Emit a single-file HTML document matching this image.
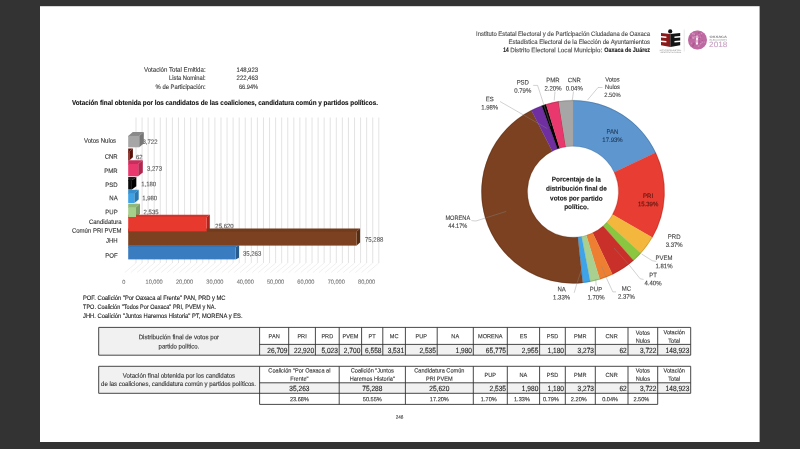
<!DOCTYPE html>
<html lang="es">
<head>
<meta charset="utf-8">
<title>Estadística Electoral - Oaxaca de Juárez</title>
<style>
html,body{margin:0;padding:0;background:#333;}
body{width:800px;height:449px;overflow:hidden;}
svg{display:block;font-family:"Liberation Sans",sans-serif;text-rendering:geometricPrecision;filter:blur(0.45px);}
</style>
</head>
<body>
<svg width="800" height="449" viewBox="0 0 800 449">
<rect x="0" y="0" width="800" height="449" fill="#333"/>
<rect x="40" y="6.2" width="719.6" height="435.8" fill="#fff"/>
<text x="650.00" y="36.08" font-size="6.42" text-anchor="end" fill="#484848" textLength="174.00" lengthAdjust="spacingAndGlyphs" stroke="#484848" stroke-width="0.12" transform="rotate(0.03 650.00 36.08)">Instituto Estatal Electoral y de Participación Ciudadana de Oaxaca</text>
<text x="650.00" y="44.38" font-size="6.42" text-anchor="end" fill="#484848" textLength="141.50" lengthAdjust="spacingAndGlyphs" stroke="#484848" stroke-width="0.12" transform="rotate(0.03 650.00 44.38)">Estadística Electoral de la Elección de Ayuntamientos</text>
<text x="650.00" y="52.28" font-size="6.42" text-anchor="end" fill="#222" textLength="45.80" lengthAdjust="spacingAndGlyphs" font-weight="bold" stroke="#222" stroke-width="0.12" transform="rotate(0.03 650.00 52.28)">Oaxaca de Juárez</text>
<text x="510.20" y="52.28" font-size="6.42" text-anchor="start" fill="#484848" textLength="92.00" lengthAdjust="spacingAndGlyphs" stroke="#484848" stroke-width="0.12" transform="rotate(0.03 510.20 52.28)">Distrito Electoral Local  Municipio:</text>
<text x="503.30" y="52.28" font-size="6.42" text-anchor="start" fill="#222" textLength="5.40" lengthAdjust="spacingAndGlyphs" font-weight="bold" stroke="#222" stroke-width="0.12" transform="rotate(0.03 503.30 52.28)">14</text>
<g id="logo">
<circle cx="670.2" cy="31.4" r="2.1" fill="#111"/>
<path d="M670.30 33.90L661.00 33.00L661.00 36.10L666.39 36.62L666.39 38.12L661.00 37.60L661.00 40.50L666.39 41.02L666.39 42.52L661.00 42.00L661.00 45.30L670.30 47.00z" fill="#8a1a1a"/>
<path d="M670.30 33.90L680.20 33.00L680.20 36.10L674.46 36.62L674.46 38.12L680.20 37.60L680.20 40.50L674.46 41.02L674.46 42.52L680.20 42.00L680.20 45.30L670.30 47.00z" fill="#141414"/>
<text x="670.50" y="51.25" font-size="1.82" text-anchor="middle" fill="#7a7a7a" textLength="21.50" lengthAdjust="spacingAndGlyphs" transform="rotate(0.03 670.50 51.25)">INSTITUTO ESTATAL ELECTORAL</text>
<text x="670.50" y="53.15" font-size="1.82" text-anchor="middle" fill="#7a7a7a" textLength="21.50" lengthAdjust="spacingAndGlyphs" transform="rotate(0.03 670.50 53.15)">Y DE PARTICIPACIÓN CIUDADANA</text>
<line x1="684.2" y1="29.5" x2="684.2" y2="51.5" stroke="#d6d6d6" stroke-width="0.6"/>
<rect x="688.1" y="30.6" width="18.8" height="18.8" rx="8.8" fill="#be69a1"/>
<g fill="#dca4c9" opacity="0.7"><circle cx="696.20" cy="42.60" r="0.83"/><circle cx="702.18" cy="42.29" r="0.68"/><circle cx="702.21" cy="41.80" r="0.52"/><circle cx="695.29" cy="40.98" r="0.55"/><circle cx="691.31" cy="43.18" r="0.56"/><circle cx="698.46" cy="45.68" r="0.97"/><circle cx="693.62" cy="37.96" r="0.99"/><circle cx="704.35" cy="42.06" r="0.64"/><circle cx="699.17" cy="42.13" r="0.65"/><circle cx="698.74" cy="37.18" r="0.79"/><circle cx="694.78" cy="36.76" r="0.77"/><circle cx="699.68" cy="40.91" r="0.60"/><circle cx="695.57" cy="35.86" r="0.66"/><circle cx="693.45" cy="37.58" r="0.65"/><circle cx="699.20" cy="34.05" r="0.62"/><circle cx="692.90" cy="37.68" r="0.94"/><circle cx="697.02" cy="36.30" r="0.99"/><circle cx="700.82" cy="43.05" r="0.88"/><circle cx="700.35" cy="44.03" r="0.52"/><circle cx="694.26" cy="34.26" r="0.79"/><circle cx="700.25" cy="37.26" r="0.85"/><circle cx="692.96" cy="36.94" r="0.73"/><circle cx="701.61" cy="33.52" r="0.74"/><circle cx="696.29" cy="37.97" r="0.85"/><circle cx="692.71" cy="33.65" r="0.91"/><circle cx="696.57" cy="44.21" r="0.83"/></g>
<g fill="#a24a86" opacity="0.6"><circle cx="702.22" cy="40.67" r="0.58"/><circle cx="699.24" cy="41.58" r="0.88"/><circle cx="699.90" cy="42.53" r="0.70"/><circle cx="699.22" cy="38.20" r="0.72"/><circle cx="690.55" cy="37.77" r="0.91"/><circle cx="699.91" cy="37.23" r="0.71"/><circle cx="692.89" cy="45.66" r="0.98"/><circle cx="699.28" cy="42.48" r="0.62"/><circle cx="698.01" cy="44.88" r="0.79"/><circle cx="697.34" cy="42.02" r="0.71"/><circle cx="693.82" cy="43.95" r="0.98"/><circle cx="695.64" cy="35.26" r="0.81"/><circle cx="696.46" cy="37.92" r="0.95"/><circle cx="698.86" cy="32.88" r="0.90"/><circle cx="694.07" cy="42.75" r="0.55"/><circle cx="695.92" cy="38.23" r="0.53"/><circle cx="698.26" cy="42.87" r="0.67"/><circle cx="699.39" cy="40.65" r="0.58"/><circle cx="700.86" cy="42.49" r="0.51"/><circle cx="701.50" cy="35.96" r="0.57"/></g>
<rect x="695.9" y="35.6" width="2.2" height="9.4" rx="1.1" fill="#e3b4d3"/>
<circle cx="697" cy="38.9" r="0.9" fill="#fff"/><circle cx="697" cy="43.3" r="0.9" fill="#fff"/>
<text x="718.20" y="37.73" font-size="2.89" text-anchor="middle" fill="#6a6a6a" textLength="17.60" lengthAdjust="spacingAndGlyphs" font-weight="bold" transform="rotate(0.03 718.20 37.73)">OAXACA</text>
<text x="718.20" y="40.67" font-size="2.46" text-anchor="middle" fill="#9a9a9a" textLength="17.60" lengthAdjust="spacingAndGlyphs" transform="rotate(0.03 718.20 40.67)">ELECCIONES</text>
<text x="718.20" y="47.07" font-size="7.81" text-anchor="middle" fill="#c9a2c4" textLength="18.20" lengthAdjust="spacingAndGlyphs" stroke="#c9a2c4" stroke-width="0.12" transform="rotate(0.03 718.20 47.07)">2018</text>
</g>
<text x="205.60" y="71.88" font-size="6.42" text-anchor="end" fill="#3a3a3a" textLength="61.60" lengthAdjust="spacingAndGlyphs" stroke="#3a3a3a" stroke-width="0.12" transform="rotate(0.03 205.60 71.88)">Votación Total Emitida:</text>
<text x="258.00" y="71.88" font-size="6.42" text-anchor="end" fill="#3a3a3a" textLength="21.40" lengthAdjust="spacingAndGlyphs" stroke="#3a3a3a" stroke-width="0.12" transform="rotate(0.03 258.00 71.88)">148,923</text>
<text x="205.60" y="80.38" font-size="6.42" text-anchor="end" fill="#3a3a3a" textLength="36.60" lengthAdjust="spacingAndGlyphs" stroke="#3a3a3a" stroke-width="0.12" transform="rotate(0.03 205.60 80.38)">Lista Nominal:</text>
<text x="258.00" y="80.38" font-size="6.42" text-anchor="end" fill="#3a3a3a" textLength="21.40" lengthAdjust="spacingAndGlyphs" stroke="#3a3a3a" stroke-width="0.12" transform="rotate(0.03 258.00 80.38)">222,463</text>
<text x="205.60" y="88.78" font-size="6.42" text-anchor="end" fill="#3a3a3a" textLength="50.00" lengthAdjust="spacingAndGlyphs" stroke="#3a3a3a" stroke-width="0.12" transform="rotate(0.03 205.60 88.78)">% de Participación:</text>
<text x="258.00" y="88.78" font-size="6.42" text-anchor="end" fill="#3a3a3a" textLength="19.00" lengthAdjust="spacingAndGlyphs" stroke="#3a3a3a" stroke-width="0.12" transform="rotate(0.03 258.00 88.78)">66.94%</text>
<text x="72.00" y="104.71" font-size="7.06" text-anchor="start" fill="#111" textLength="306.00" lengthAdjust="spacingAndGlyphs" font-weight="bold" stroke="#111" stroke-width="0.12" transform="rotate(0.03 72.00 104.71)">Votación final obtenida por los candidatos de las coaliciones, candidatura común y partidos políticos.</text>
<g id="barchart">
<path d="M136.00 117.5V263 M142.07 117.5V263 M148.14 117.5V263 M154.21 117.5V263 M160.28 117.5V263 M166.35 117.5V263 M172.42 117.5V263 M178.49 117.5V263 M184.56 117.5V263 M190.63 117.5V263 M196.70 117.5V263 M202.77 117.5V263 M208.84 117.5V263 M214.91 117.5V263 M220.98 117.5V263 M227.05 117.5V263 M233.12 117.5V263 M239.19 117.5V263 M245.26 117.5V263 M251.33 117.5V263 M257.40 117.5V263 M263.47 117.5V263 M269.54 117.5V263 M275.61 117.5V263 M281.68 117.5V263 M287.75 117.5V263 M293.82 117.5V263 M299.89 117.5V263 M305.96 117.5V263 M312.03 117.5V263 M318.10 117.5V263 M324.17 117.5V263 M330.24 117.5V263 M336.31 117.5V263 M342.38 117.5V263 M348.45 117.5V263 M354.52 117.5V263 M360.59 117.5V263 M366.66 117.5V263 M372.73 117.5V263 M378.80 117.5V263" stroke="#dedede" stroke-width="0.85" fill="none"/>
<path d="M136.00 263L124.70 272.6 M142.07 263L130.77 272.6 M148.14 263L136.84 272.6 M154.21 263L142.91 272.6 M160.28 263L148.98 272.6 M166.35 263L155.05 272.6 M172.42 263L161.12 272.6 M178.49 263L167.19 272.6 M184.56 263L173.26 272.6 M190.63 263L179.33 272.6 M196.70 263L185.40 272.6 M202.77 263L191.47 272.6 M208.84 263L197.54 272.6 M214.91 263L203.61 272.6 M220.98 263L209.68 272.6 M227.05 263L215.75 272.6 M233.12 263L221.82 272.6 M239.19 263L227.89 272.6 M245.26 263L233.96 272.6 M251.33 263L240.03 272.6 M257.40 263L246.10 272.6 M263.47 263L252.17 272.6 M269.54 263L258.24 272.6 M275.61 263L264.31 272.6 M281.68 263L270.38 272.6 M287.75 263L276.45 272.6 M293.82 263L282.52 272.6 M299.89 263L288.59 272.6 M305.96 263L294.66 272.6 M312.03 263L300.73 272.6 M318.10 263L306.80 272.6 M324.17 263L312.87 272.6 M330.24 263L318.94 272.6 M336.31 263L325.01 272.6 M342.38 263L331.08 272.6 M348.45 263L337.15 272.6 M354.52 263L343.22 272.6 M360.59 263L349.29 272.6 M366.66 263L355.36 272.6 M372.73 263L361.43 272.6 M378.80 263L367.50 272.6" stroke="#e6e6e6" stroke-width="0.6" fill="none"/>
<text x="142.50" y="143.88" font-size="6.42" text-anchor="start" fill="#595959" textLength="15.02" lengthAdjust="spacingAndGlyphs" stroke="#595959" stroke-width="0.12" transform="rotate(0.03 142.50 143.88)">3,722</text>
<text x="136.00" y="159.28" font-size="6.42" text-anchor="start" fill="#595959" textLength="6.67" lengthAdjust="spacingAndGlyphs" stroke="#595959" stroke-width="0.12" transform="rotate(0.03 136.00 159.28)">62</text>
<text x="147.00" y="170.68" font-size="6.42" text-anchor="start" fill="#595959" textLength="15.02" lengthAdjust="spacingAndGlyphs" stroke="#595959" stroke-width="0.12" transform="rotate(0.03 147.00 170.68)">3,273</text>
<text x="141.20" y="186.28" font-size="6.42" text-anchor="start" fill="#595959" textLength="15.02" lengthAdjust="spacingAndGlyphs" stroke="#595959" stroke-width="0.12" transform="rotate(0.03 141.20 186.28)">1,180</text>
<text x="142.20" y="200.28" font-size="6.42" text-anchor="start" fill="#595959" textLength="15.02" lengthAdjust="spacingAndGlyphs" stroke="#595959" stroke-width="0.12" transform="rotate(0.03 142.20 200.28)">1,980</text>
<text x="143.60" y="214.28" font-size="6.42" text-anchor="start" fill="#595959" textLength="15.02" lengthAdjust="spacingAndGlyphs" stroke="#595959" stroke-width="0.12" transform="rotate(0.03 143.60 214.28)">2,535</text>
<text x="215.30" y="228.28" font-size="6.42" text-anchor="start" fill="#595959" textLength="18.35" lengthAdjust="spacingAndGlyphs" stroke="#595959" stroke-width="0.12" transform="rotate(0.03 215.30 228.28)">25,620</text>
<text x="365.00" y="241.78" font-size="6.42" text-anchor="start" fill="#595959" textLength="18.35" lengthAdjust="spacingAndGlyphs" stroke="#595959" stroke-width="0.12" transform="rotate(0.03 365.00 241.78)">75,288</text>
<text x="242.90" y="255.78" font-size="6.42" text-anchor="start" fill="#595959" textLength="18.35" lengthAdjust="spacingAndGlyphs" stroke="#595959" stroke-width="0.12" transform="rotate(0.03 242.90 255.78)">35,263</text>
<path d="M128.2 135.90L132.80 132.10L143.80 132.10L139.20 135.90L139.20 136.70L128.2 136.70z" fill="#8a8a8a"/>
<path d="M139.20 135.90L143.80 132.10L143.80 143.50L139.20 147.30z" fill="#767676"/>
<path d="M128.2 151.60L128.20 148.40L132.90 148.40L129.30 151.60L129.30 152.40L128.2 152.40z" fill="#66140c"/>
<path d="M129.30 151.60L132.90 148.40L132.90 157.20L129.30 160.40z" fill="#5a0f08"/>
<path d="M128.2 164.00L128.20 160.20L142.80 160.20L138.20 164.00L138.20 164.80L128.2 164.80z" fill="#c92d5c"/>
<path d="M138.20 164.00L142.80 160.20L142.80 172.50L138.20 176.30z" fill="#b3264f"/>
<path d="M128.2 180.20L128.20 176.90L136.30 176.90L131.90 180.20L131.90 181.00L128.2 181.00z" fill="#1c1c1c"/>
<path d="M131.90 180.20L136.30 176.90L136.30 186.20L131.90 189.50z" fill="#000"/>
<path d="M128.2 193.20L128.20 189.70L138.70 189.70L134.30 193.20L134.30 194.00L128.2 194.00z" fill="#358dc9"/>
<path d="M134.30 193.20L138.70 189.70L138.70 199.60L134.30 203.10z" fill="#2b79b0"/>
<path d="M128.2 207.20L128.20 203.80L140.00 203.80L136.00 207.20L136.00 208.00L128.2 208.00z" fill="#90b878"/>
<path d="M136.00 207.20L140.00 203.80L140.00 213.90L136.00 217.30z" fill="#7b9f66"/>
<path d="M128.2 217.00L128.20 214.80L209.80 214.80L206.70 217.00L206.70 217.80L128.2 217.80z" fill="#d6332a"/>
<path d="M206.70 217.00L209.80 214.80L209.80 229.50L206.70 231.70z" fill="#ad261e"/>
<path d="M128.2 231.60L128.20 228.50L360.10 228.50L356.60 231.60L356.60 232.40L128.2 232.40z" fill="#723b1c"/>
<path d="M356.60 231.60L360.10 228.50L360.10 242.50L356.60 245.60z" fill="#552d13"/>
<path d="M128.2 247.00L128.20 245.30L239.00 245.30L235.60 247.00L235.60 247.80L128.2 247.80z" fill="#3574b4"/>
<path d="M235.60 247.00L239.00 245.30L239.00 257.70L235.60 259.40z" fill="#295a8e"/>
<rect x="128.2" y="135.90" width="11.00" height="11.40" fill="#a6a6a6"/>
<rect x="128.2" y="151.60" width="1.10" height="8.80" fill="#7a1a10"/>
<rect x="128.2" y="164.00" width="10.00" height="12.30" fill="#e8386d"/>
<rect x="128.2" y="180.20" width="3.70" height="9.30" fill="#0a0a0a"/>
<rect x="128.2" y="193.20" width="6.10" height="9.90" fill="#3ea2e6"/>
<rect x="128.2" y="207.20" width="7.80" height="10.10" fill="#a6cf8c"/>
<rect x="128.2" y="217.00" width="78.50" height="14.70" fill="#e8392f"/>
<rect x="128.2" y="231.60" width="228.40" height="14.00" fill="#7c4120"/>
<rect x="128.2" y="247.00" width="107.40" height="12.40" fill="#3a7cc0"/>
<text x="116.10" y="142.78" font-size="6.42" text-anchor="end" fill="#333" textLength="32.02" lengthAdjust="spacingAndGlyphs" stroke="#333" stroke-width="0.12" transform="rotate(0.03 116.10 142.78)">Votos Nulos</text>
<text x="117.70" y="158.88" font-size="6.42" text-anchor="end" fill="#333" textLength="13.00" lengthAdjust="spacingAndGlyphs" stroke="#333" stroke-width="0.12" transform="rotate(0.03 117.70 158.88)">CNR</text>
<text x="117.70" y="173.08" font-size="6.42" text-anchor="end" fill="#333" textLength="13.33" lengthAdjust="spacingAndGlyphs" stroke="#333" stroke-width="0.12" transform="rotate(0.03 117.70 173.08)">PMR</text>
<text x="117.70" y="186.98" font-size="6.42" text-anchor="end" fill="#333" textLength="12.34" lengthAdjust="spacingAndGlyphs" stroke="#333" stroke-width="0.12" transform="rotate(0.03 117.70 186.98)">PSD</text>
<text x="117.70" y="200.18" font-size="6.42" text-anchor="end" fill="#333" textLength="8.34" lengthAdjust="spacingAndGlyphs" stroke="#333" stroke-width="0.12" transform="rotate(0.03 117.70 200.18)">NA</text>
<text x="117.70" y="214.28" font-size="6.42" text-anchor="end" fill="#333" textLength="12.34" lengthAdjust="spacingAndGlyphs" stroke="#333" stroke-width="0.12" transform="rotate(0.03 117.70 214.28)">PUP</text>
<text x="121.60" y="224.08" font-size="6.42" text-anchor="end" fill="#333" textLength="32.69" lengthAdjust="spacingAndGlyphs" stroke="#333" stroke-width="0.12" transform="rotate(0.03 121.60 224.08)">Candidatura</text>
<text x="121.60" y="232.78" font-size="6.42" text-anchor="end" fill="#333" textLength="49.68" lengthAdjust="spacingAndGlyphs" stroke="#333" stroke-width="0.12" transform="rotate(0.03 121.60 232.78)">Común PRI PVEM</text>
<text x="117.70" y="242.78" font-size="6.42" text-anchor="end" fill="#333" textLength="11.67" lengthAdjust="spacingAndGlyphs" stroke="#333" stroke-width="0.12" transform="rotate(0.03 117.70 242.78)">JHH</text>
<text x="117.70" y="257.88" font-size="6.42" text-anchor="end" fill="#333" textLength="12.33" lengthAdjust="spacingAndGlyphs" stroke="#333" stroke-width="0.12" transform="rotate(0.03 117.70 257.88)">POF</text>
<text x="123.80" y="283.73" font-size="5.99" text-anchor="middle" fill="#7a7a7a" textLength="3.11" lengthAdjust="spacingAndGlyphs" stroke="#7a7a7a" stroke-width="0.12" transform="rotate(0.03 123.80 283.73)">0</text>
<text x="154.15" y="283.73" font-size="5.99" text-anchor="middle" fill="#7a7a7a" textLength="17.13" lengthAdjust="spacingAndGlyphs" stroke="#7a7a7a" stroke-width="0.12" transform="rotate(0.03 154.15 283.73)">10,000</text>
<text x="184.50" y="283.73" font-size="5.99" text-anchor="middle" fill="#7a7a7a" textLength="17.13" lengthAdjust="spacingAndGlyphs" stroke="#7a7a7a" stroke-width="0.12" transform="rotate(0.03 184.50 283.73)">20,000</text>
<text x="214.85" y="283.73" font-size="5.99" text-anchor="middle" fill="#7a7a7a" textLength="17.13" lengthAdjust="spacingAndGlyphs" stroke="#7a7a7a" stroke-width="0.12" transform="rotate(0.03 214.85 283.73)">30,000</text>
<text x="245.20" y="283.73" font-size="5.99" text-anchor="middle" fill="#7a7a7a" textLength="17.13" lengthAdjust="spacingAndGlyphs" stroke="#7a7a7a" stroke-width="0.12" transform="rotate(0.03 245.20 283.73)">40,000</text>
<text x="275.55" y="283.73" font-size="5.99" text-anchor="middle" fill="#7a7a7a" textLength="17.13" lengthAdjust="spacingAndGlyphs" stroke="#7a7a7a" stroke-width="0.12" transform="rotate(0.03 275.55 283.73)">50,000</text>
<text x="305.90" y="283.73" font-size="5.99" text-anchor="middle" fill="#7a7a7a" textLength="17.13" lengthAdjust="spacingAndGlyphs" stroke="#7a7a7a" stroke-width="0.12" transform="rotate(0.03 305.90 283.73)">60,000</text>
<text x="336.25" y="283.73" font-size="5.99" text-anchor="middle" fill="#7a7a7a" textLength="17.13" lengthAdjust="spacingAndGlyphs" stroke="#7a7a7a" stroke-width="0.12" transform="rotate(0.03 336.25 283.73)">70,000</text>
<text x="366.60" y="283.73" font-size="5.99" text-anchor="middle" fill="#7a7a7a" textLength="17.13" lengthAdjust="spacingAndGlyphs" stroke="#7a7a7a" stroke-width="0.12" transform="rotate(0.03 366.60 283.73)">80,000</text>
</g>
<text x="83.00" y="299.78" font-size="6.42" text-anchor="start" fill="#1c1c1c" textLength="142.50" lengthAdjust="spacingAndGlyphs" stroke="#1c1c1c" stroke-width="0.12" transform="rotate(0.03 83.00 299.78)">POF. Coalición &quot;Por Oaxaca al Frente&quot; PAN, PRD y MC</text>
<text x="83.00" y="308.58" font-size="6.42" text-anchor="start" fill="#1c1c1c" textLength="133.00" lengthAdjust="spacingAndGlyphs" stroke="#1c1c1c" stroke-width="0.12" transform="rotate(0.03 83.00 308.58)">TPO. Coalición &quot;Todos Por Oaxaca&quot; PRI, PVEM y NA.</text>
<text x="83.00" y="317.68" font-size="6.42" text-anchor="start" fill="#1c1c1c" textLength="159.50" lengthAdjust="spacingAndGlyphs" stroke="#1c1c1c" stroke-width="0.12" transform="rotate(0.03 83.00 317.68)">JHH. Coalición &quot;Juntos Haremos Historia&quot; PT, MORENA y ES.</text>
<g id="donut">
<path d="M573.00 100.20A91.6 91.6 0 0 1 655.72 152.45L614.09 172.26A45.5 45.5 0 0 0 573.00 146.30z" fill="#5e97cf" stroke="#5e97cf" stroke-width="0.25"/>
<path d="M655.72 152.45A91.6 91.6 0 0 1 652.35 237.57L612.41 214.53A45.5 45.5 0 0 0 614.09 172.26z" fill="#e83d32" stroke="#e83d32" stroke-width="0.25"/>
<path d="M652.35 237.57A91.6 91.6 0 0 1 640.95 253.22L606.75 222.31A45.5 45.5 0 0 0 612.41 214.53z" fill="#f4b73e" stroke="#f4b73e" stroke-width="0.25"/>
<path d="M640.95 253.22A91.6 91.6 0 0 1 633.54 260.54L603.07 225.94A45.5 45.5 0 0 0 606.75 222.31z" fill="#8ac640" stroke="#8ac640" stroke-width="0.25"/>
<path d="M633.54 260.54A91.6 91.6 0 0 1 612.48 274.46L592.61 232.86A45.5 45.5 0 0 0 603.07 225.94z" fill="#c9302a" stroke="#c9302a" stroke-width="0.25"/>
<path d="M612.48 274.46A91.6 91.6 0 0 1 599.77 279.40L586.30 235.31A45.5 45.5 0 0 0 592.61 232.86z" fill="#ee7f32" stroke="#ee7f32" stroke-width="0.25"/>
<path d="M599.77 279.40A91.6 91.6 0 0 1 590.28 281.76L581.58 236.48A45.5 45.5 0 0 0 586.30 235.31z" fill="#a9d08e" stroke="#a9d08e" stroke-width="0.25"/>
<path d="M590.28 281.76A91.6 91.6 0 0 1 582.71 282.88L577.82 237.04A45.5 45.5 0 0 0 581.58 236.48z" fill="#3fa3e8" stroke="#3fa3e8" stroke-width="0.25"/>
<path d="M582.71 282.88A91.6 91.6 0 0 1 531.36 110.21L552.31 151.27A45.5 45.5 0 0 0 577.82 237.04z" fill="#7c4120" stroke="#7c4120" stroke-width="0.25"/>
<path d="M531.36 110.21A91.6 91.6 0 0 1 541.80 105.68L557.50 149.02A45.5 45.5 0 0 0 552.31 151.27z" fill="#6f2fa0" stroke="#6f2fa0" stroke-width="0.25"/>
<path d="M541.80 105.68A91.6 91.6 0 0 1 546.12 104.23L559.65 148.30A45.5 45.5 0 0 0 557.50 149.02z" fill="#050505" stroke="#050505" stroke-width="0.25"/>
<path d="M546.12 104.23A91.6 91.6 0 0 1 558.44 101.36L565.77 146.88A45.5 45.5 0 0 0 559.65 148.30z" fill="#e8386d" stroke="#e8386d" stroke-width="0.25"/>
<path d="M558.44 101.36A91.6 91.6 0 0 1 558.67 101.33L565.88 146.86A45.5 45.5 0 0 0 565.77 146.88z" fill="#7a1b14" stroke="#7a1b14" stroke-width="0.25"/>
<path d="M558.67 101.33A91.6 91.6 0 0 1 573.00 100.20L573.00 146.30A45.5 45.5 0 0 0 565.88 146.86z" fill="#a6a6a6" stroke="#a6a6a6" stroke-width="0.25"/>
<path d="M533.2 85.4L537.6 85.4L550.7 126.0" stroke="#8a8a8a" stroke-opacity="0.55" stroke-width="0.7" fill="none"/>
<path d="M555.0 91.5L554.2 100.5" stroke="#8a8a8a" stroke-opacity="0.55" stroke-width="0.7" fill="none"/>
<path d="M573.5 91.5L572.2 100.5" stroke="#8a8a8a" stroke-opacity="0.55" stroke-width="0.7" fill="none"/>
<path d="M602.5 87.5L598.0 87.5L587.5 100.0" stroke="#8a8a8a" stroke-opacity="0.55" stroke-width="0.7" fill="none"/>
<path d="M500.0 101.5L547.3 128.6" stroke="#8a8a8a" stroke-opacity="0.55" stroke-width="0.7" fill="none"/>
<path d="M471.4 220.6L476.0 221.0L506.2 211.4" stroke="#8a8a8a" stroke-opacity="0.55" stroke-width="0.7" fill="none"/>
<path d="M574.2 292.8L576.7 284.1L581.4 270.0" stroke="#8a8a8a" stroke-opacity="0.55" stroke-width="0.7" fill="none"/>
<path d="M596.1 285.5L595.8 279.5" stroke="#8a8a8a" stroke-opacity="0.55" stroke-width="0.7" fill="none"/>
<path d="M616.1 291.9L612.8 291.9L606.8 278.8L601.5 266.0" stroke="#8a8a8a" stroke-opacity="0.55" stroke-width="0.7" fill="none"/>
<path d="M643.6 279.4L640.2 278.8L629.5 265.4L614.0 248.0" stroke="#8a8a8a" stroke-opacity="0.55" stroke-width="0.7" fill="none"/>
<path d="M656.3 261.4L652.2 260.7L641.6 254.0" stroke="#8a8a8a" stroke-opacity="0.55" stroke-width="0.7" fill="none"/>
<circle cx="573.0" cy="191.8" r="91.19999999999999" fill="none" stroke="#000" stroke-opacity="0.16" stroke-width="0.9"/>
<circle cx="573.0" cy="191.8" r="45.9" fill="none" stroke="#000" stroke-opacity="0.12" stroke-width="0.8"/>
<text x="522.80" y="84.48" font-size="6.42" text-anchor="middle" fill="#444" textLength="12.34" lengthAdjust="spacingAndGlyphs" stroke="#444" stroke-width="0.12" transform="rotate(0.03 522.80 84.48)">PSD</text>
<text x="522.80" y="92.68" font-size="6.42" text-anchor="middle" fill="#444" textLength="17.01" lengthAdjust="spacingAndGlyphs" stroke="#444" stroke-width="0.12" transform="rotate(0.03 522.80 92.68)">0.79%</text>
<text x="553.00" y="82.28" font-size="6.42" text-anchor="middle" fill="#444" textLength="13.33" lengthAdjust="spacingAndGlyphs" stroke="#444" stroke-width="0.12" transform="rotate(0.03 553.00 82.28)">PMR</text>
<text x="553.00" y="90.48" font-size="6.42" text-anchor="middle" fill="#444" textLength="17.01" lengthAdjust="spacingAndGlyphs" stroke="#444" stroke-width="0.12" transform="rotate(0.03 553.00 90.48)">2.20%</text>
<text x="574.30" y="82.28" font-size="6.42" text-anchor="middle" fill="#444" textLength="13.00" lengthAdjust="spacingAndGlyphs" stroke="#444" stroke-width="0.12" transform="rotate(0.03 574.30 82.28)">CNR</text>
<text x="574.30" y="90.48" font-size="6.42" text-anchor="middle" fill="#444" textLength="17.01" lengthAdjust="spacingAndGlyphs" stroke="#444" stroke-width="0.12" transform="rotate(0.03 574.30 90.48)">0.04%</text>
<text x="612.50" y="81.40" font-size="6.21" text-anchor="middle" fill="#444" textLength="14.51" lengthAdjust="spacingAndGlyphs" stroke="#444" stroke-width="0.12" transform="rotate(0.03 612.50 81.40)">Votos</text>
<text x="612.50" y="89.10" font-size="6.21" text-anchor="middle" fill="#444" textLength="14.83" lengthAdjust="spacingAndGlyphs" stroke="#444" stroke-width="0.12" transform="rotate(0.03 612.50 89.10)">Nulos</text>
<text x="612.50" y="97.10" font-size="6.21" text-anchor="middle" fill="#444" textLength="16.45" lengthAdjust="spacingAndGlyphs" stroke="#444" stroke-width="0.12" transform="rotate(0.03 612.50 97.10)">2.50%</text>
<text x="489.70" y="101.28" font-size="6.42" text-anchor="middle" fill="#444" textLength="8.00" lengthAdjust="spacingAndGlyphs" stroke="#444" stroke-width="0.12" transform="rotate(0.03 489.70 101.28)">ES</text>
<text x="489.70" y="109.48" font-size="6.42" text-anchor="middle" fill="#444" textLength="17.01" lengthAdjust="spacingAndGlyphs" stroke="#444" stroke-width="0.12" transform="rotate(0.03 489.70 109.48)">1.98%</text>
<text x="612.50" y="133.88" font-size="6.42" text-anchor="middle" fill="#1f3a5a" textLength="11.89" lengthAdjust="spacingAndGlyphs" stroke="#1f3a5a" stroke-width="0.12" transform="rotate(0.03 612.50 133.88)">PAN</text>
<text x="612.50" y="142.08" font-size="6.42" text-anchor="middle" fill="#1f3a5a" textLength="20.35" lengthAdjust="spacingAndGlyphs" stroke="#1f3a5a" stroke-width="0.12" transform="rotate(0.03 612.50 142.08)">17.93%</text>
<text x="648.10" y="198.08" font-size="6.42" text-anchor="middle" fill="#5a1510" textLength="10.00" lengthAdjust="spacingAndGlyphs" stroke="#5a1510" stroke-width="0.12" transform="rotate(0.03 648.10 198.08)">PRI</text>
<text x="648.10" y="206.28" font-size="6.42" text-anchor="middle" fill="#5a1510" textLength="20.35" lengthAdjust="spacingAndGlyphs" stroke="#5a1510" stroke-width="0.12" transform="rotate(0.03 648.10 206.28)">15.39%</text>
<text x="674.20" y="238.88" font-size="6.42" text-anchor="middle" fill="#444" textLength="12.67" lengthAdjust="spacingAndGlyphs" stroke="#444" stroke-width="0.12" transform="rotate(0.03 674.20 238.88)">PRD</text>
<text x="674.20" y="247.08" font-size="6.42" text-anchor="middle" fill="#444" textLength="17.01" lengthAdjust="spacingAndGlyphs" stroke="#444" stroke-width="0.12" transform="rotate(0.03 674.20 247.08)">3.37%</text>
<text x="664.00" y="259.98" font-size="6.42" text-anchor="middle" fill="#444" textLength="17.00" lengthAdjust="spacingAndGlyphs" stroke="#444" stroke-width="0.12" transform="rotate(0.03 664.00 259.98)">PVEM</text>
<text x="664.00" y="268.18" font-size="6.42" text-anchor="middle" fill="#444" textLength="17.01" lengthAdjust="spacingAndGlyphs" stroke="#444" stroke-width="0.12" transform="rotate(0.03 664.00 268.18)">1.81%</text>
<text x="653.00" y="277.18" font-size="6.42" text-anchor="middle" fill="#444" textLength="7.67" lengthAdjust="spacingAndGlyphs" stroke="#444" stroke-width="0.12" transform="rotate(0.03 653.00 277.18)">PT</text>
<text x="653.00" y="285.38" font-size="6.42" text-anchor="middle" fill="#444" textLength="17.01" lengthAdjust="spacingAndGlyphs" stroke="#444" stroke-width="0.12" transform="rotate(0.03 653.00 285.38)">4.40%</text>
<text x="626.40" y="290.68" font-size="6.42" text-anchor="middle" fill="#444" textLength="9.33" lengthAdjust="spacingAndGlyphs" stroke="#444" stroke-width="0.12" transform="rotate(0.03 626.40 290.68)">MC</text>
<text x="626.40" y="298.88" font-size="6.42" text-anchor="middle" fill="#444" textLength="17.01" lengthAdjust="spacingAndGlyphs" stroke="#444" stroke-width="0.12" transform="rotate(0.03 626.40 298.88)">2.37%</text>
<text x="596.00" y="291.38" font-size="6.42" text-anchor="middle" fill="#444" textLength="12.34" lengthAdjust="spacingAndGlyphs" stroke="#444" stroke-width="0.12" transform="rotate(0.03 596.00 291.38)">PUP</text>
<text x="596.00" y="299.58" font-size="6.42" text-anchor="middle" fill="#444" textLength="17.01" lengthAdjust="spacingAndGlyphs" stroke="#444" stroke-width="0.12" transform="rotate(0.03 596.00 299.58)">1.70%</text>
<text x="561.60" y="291.38" font-size="6.42" text-anchor="middle" fill="#444" textLength="8.34" lengthAdjust="spacingAndGlyphs" stroke="#444" stroke-width="0.12" transform="rotate(0.03 561.60 291.38)">NA</text>
<text x="561.60" y="299.58" font-size="6.42" text-anchor="middle" fill="#444" textLength="17.01" lengthAdjust="spacingAndGlyphs" stroke="#444" stroke-width="0.12" transform="rotate(0.03 561.60 299.58)">1.33%</text>
<text x="457.80" y="220.38" font-size="6.42" text-anchor="middle" fill="#444" textLength="24.80" lengthAdjust="spacingAndGlyphs" stroke="#444" stroke-width="0.12" transform="rotate(0.03 457.80 220.38)">MORENA</text>
<text x="457.80" y="227.78" font-size="6.42" text-anchor="middle" fill="#444" textLength="19.10" lengthAdjust="spacingAndGlyphs" stroke="#444" stroke-width="0.12" transform="rotate(0.03 457.80 227.78)">44.17%</text>
<text x="576.40" y="181.63" font-size="6.85" text-anchor="middle" fill="#1a1a1a" textLength="49.09" lengthAdjust="spacingAndGlyphs" font-weight="bold" stroke="#1a1a1a" stroke-width="0.12" transform="rotate(0.03 576.40 181.63)">Porcentaje de la</text>
<text x="576.40" y="190.83" font-size="6.85" text-anchor="middle" fill="#1a1a1a" textLength="60.80" lengthAdjust="spacingAndGlyphs" font-weight="bold" stroke="#1a1a1a" stroke-width="0.12" transform="rotate(0.03 576.40 190.83)">distribución final de</text>
<text x="576.40" y="200.63" font-size="6.85" text-anchor="middle" fill="#1a1a1a" textLength="52.62" lengthAdjust="spacingAndGlyphs" font-weight="bold" stroke="#1a1a1a" stroke-width="0.12" transform="rotate(0.03 576.40 200.63)">votos por partido</text>
<text x="576.40" y="209.13" font-size="6.85" text-anchor="middle" fill="#1a1a1a" textLength="24.53" lengthAdjust="spacingAndGlyphs" font-weight="bold" stroke="#1a1a1a" stroke-width="0.12" transform="rotate(0.03 576.40 209.13)">político.</text>
</g>
<g id="tables">
<rect x="98.7" y="327.4" width="160.90000000000003" height="27.80000000000001" fill="#f1f1f1"/>
<rect x="259.6" y="344.4" width="431.1" height="10.800000000000011" fill="#f1f1f1"/>
<path d="M98.70 327.40H690.70 M259.60 344.40H690.70 M98.70 355.20H690.70 M98.70 327.40V355.20 M259.60 327.40V355.20 M288.70 327.40V355.20 M315.40 327.40V355.20 M339.20 327.40V355.20 M361.60 327.40V355.20 M382.80 327.40V355.20 M405.40 327.40V355.20 M437.20 327.40V355.20 M473.30 327.40V355.20 M507.30 327.40V355.20 M539.60 327.40V355.20 M565.30 327.40V355.20 M595.30 327.40V355.20 M628.00 327.40V355.20 M657.70 327.40V355.20 M690.70 327.40V355.20" stroke="#333" stroke-width="0.9" fill="none"/>
<text x="178.90" y="339.28" font-size="6.42" text-anchor="middle" fill="#333" textLength="80.50" lengthAdjust="spacingAndGlyphs" stroke="#333" stroke-width="0.12" transform="rotate(0.03 178.90 339.28)">Distribución final de votos por</text>
<text x="178.90" y="348.48" font-size="6.42" text-anchor="middle" fill="#333" textLength="40.69" lengthAdjust="spacingAndGlyphs" stroke="#333" stroke-width="0.12" transform="rotate(0.03 178.90 348.48)">partido político.</text>
<text x="274.15" y="338.33" font-size="5.99" text-anchor="middle" fill="#333" textLength="11.10" lengthAdjust="spacingAndGlyphs" stroke="#333" stroke-width="0.12" transform="rotate(0.03 274.15 338.33)">PAN</text>
<text x="287.40" y="353.06" font-size="7.49" text-anchor="end" fill="#222" textLength="20.13" lengthAdjust="spacingAndGlyphs" stroke="#222" stroke-width="0.12" transform="rotate(0.03 287.40 353.06)">26,709</text>
<text x="302.05" y="338.33" font-size="5.99" text-anchor="middle" fill="#333" textLength="9.34" lengthAdjust="spacingAndGlyphs" stroke="#333" stroke-width="0.12" transform="rotate(0.03 302.05 338.33)">PRI</text>
<text x="314.10" y="353.06" font-size="7.49" text-anchor="end" fill="#222" textLength="20.13" lengthAdjust="spacingAndGlyphs" stroke="#222" stroke-width="0.12" transform="rotate(0.03 314.10 353.06)">22,920</text>
<text x="327.30" y="338.33" font-size="5.99" text-anchor="middle" fill="#333" textLength="11.82" lengthAdjust="spacingAndGlyphs" stroke="#333" stroke-width="0.12" transform="rotate(0.03 327.30 338.33)">PRD</text>
<text x="337.90" y="353.06" font-size="7.49" text-anchor="end" fill="#222" textLength="16.47" lengthAdjust="spacingAndGlyphs" stroke="#222" stroke-width="0.12" transform="rotate(0.03 337.90 353.06)">5,023</text>
<text x="350.40" y="338.33" font-size="5.99" text-anchor="middle" fill="#333" textLength="15.87" lengthAdjust="spacingAndGlyphs" stroke="#333" stroke-width="0.12" transform="rotate(0.03 350.40 338.33)">PVEM</text>
<text x="360.30" y="353.06" font-size="7.49" text-anchor="end" fill="#222" textLength="16.47" lengthAdjust="spacingAndGlyphs" stroke="#222" stroke-width="0.12" transform="rotate(0.03 360.30 353.06)">2,700</text>
<text x="372.20" y="338.33" font-size="5.99" text-anchor="middle" fill="#333" textLength="7.16" lengthAdjust="spacingAndGlyphs" stroke="#333" stroke-width="0.12" transform="rotate(0.03 372.20 338.33)">PT</text>
<text x="381.50" y="353.06" font-size="7.49" text-anchor="end" fill="#222" textLength="16.47" lengthAdjust="spacingAndGlyphs" stroke="#222" stroke-width="0.12" transform="rotate(0.03 381.50 353.06)">6,558</text>
<text x="394.10" y="338.33" font-size="5.99" text-anchor="middle" fill="#333" textLength="8.71" lengthAdjust="spacingAndGlyphs" stroke="#333" stroke-width="0.12" transform="rotate(0.03 394.10 338.33)">MC</text>
<text x="404.10" y="353.06" font-size="7.49" text-anchor="end" fill="#222" textLength="16.47" lengthAdjust="spacingAndGlyphs" stroke="#222" stroke-width="0.12" transform="rotate(0.03 404.10 353.06)">3,531</text>
<text x="421.30" y="338.33" font-size="5.99" text-anchor="middle" fill="#333" textLength="11.52" lengthAdjust="spacingAndGlyphs" stroke="#333" stroke-width="0.12" transform="rotate(0.03 421.30 338.33)">PUP</text>
<text x="435.90" y="353.06" font-size="7.49" text-anchor="end" fill="#222" textLength="16.47" lengthAdjust="spacingAndGlyphs" stroke="#222" stroke-width="0.12" transform="rotate(0.03 435.90 353.06)">2,535</text>
<text x="455.25" y="338.33" font-size="5.99" text-anchor="middle" fill="#333" textLength="7.78" lengthAdjust="spacingAndGlyphs" stroke="#333" stroke-width="0.12" transform="rotate(0.03 455.25 338.33)">NA</text>
<text x="472.00" y="353.06" font-size="7.49" text-anchor="end" fill="#222" textLength="16.47" lengthAdjust="spacingAndGlyphs" stroke="#222" stroke-width="0.12" transform="rotate(0.03 472.00 353.06)">1,980</text>
<text x="490.30" y="338.33" font-size="5.99" text-anchor="middle" fill="#333" textLength="24.58" lengthAdjust="spacingAndGlyphs" stroke="#333" stroke-width="0.12" transform="rotate(0.03 490.30 338.33)">MORENA</text>
<text x="506.00" y="353.06" font-size="7.49" text-anchor="end" fill="#222" textLength="20.13" lengthAdjust="spacingAndGlyphs" stroke="#222" stroke-width="0.12" transform="rotate(0.03 506.00 353.06)">65,775</text>
<text x="523.45" y="338.33" font-size="5.99" text-anchor="middle" fill="#333" textLength="7.47" lengthAdjust="spacingAndGlyphs" stroke="#333" stroke-width="0.12" transform="rotate(0.03 523.45 338.33)">ES</text>
<text x="538.30" y="353.06" font-size="7.49" text-anchor="end" fill="#222" textLength="16.47" lengthAdjust="spacingAndGlyphs" stroke="#222" stroke-width="0.12" transform="rotate(0.03 538.30 353.06)">2,955</text>
<text x="552.45" y="338.33" font-size="5.99" text-anchor="middle" fill="#333" textLength="11.52" lengthAdjust="spacingAndGlyphs" stroke="#333" stroke-width="0.12" transform="rotate(0.03 552.45 338.33)">PSD</text>
<text x="564.00" y="353.06" font-size="7.49" text-anchor="end" fill="#222" textLength="16.47" lengthAdjust="spacingAndGlyphs" stroke="#222" stroke-width="0.12" transform="rotate(0.03 564.00 353.06)">1,180</text>
<text x="580.30" y="338.33" font-size="5.99" text-anchor="middle" fill="#333" textLength="12.44" lengthAdjust="spacingAndGlyphs" stroke="#333" stroke-width="0.12" transform="rotate(0.03 580.30 338.33)">PMR</text>
<text x="594.00" y="353.06" font-size="7.49" text-anchor="end" fill="#222" textLength="16.47" lengthAdjust="spacingAndGlyphs" stroke="#222" stroke-width="0.12" transform="rotate(0.03 594.00 353.06)">3,273</text>
<text x="611.65" y="338.33" font-size="5.99" text-anchor="middle" fill="#333" textLength="12.13" lengthAdjust="spacingAndGlyphs" stroke="#333" stroke-width="0.12" transform="rotate(0.03 611.65 338.33)">CNR</text>
<text x="626.70" y="353.06" font-size="7.49" text-anchor="end" fill="#222" textLength="7.32" lengthAdjust="spacingAndGlyphs" stroke="#222" stroke-width="0.12" transform="rotate(0.03 626.70 353.06)">62</text>
<text x="656.40" y="353.06" font-size="7.49" text-anchor="end" fill="#222" textLength="16.47" lengthAdjust="spacingAndGlyphs" stroke="#222" stroke-width="0.12" transform="rotate(0.03 656.40 353.06)">3,722</text>
<text x="689.40" y="353.06" font-size="7.49" text-anchor="end" fill="#222" textLength="23.79" lengthAdjust="spacingAndGlyphs" stroke="#222" stroke-width="0.12" transform="rotate(0.03 689.40 353.06)">148,923</text>
<text x="642.85" y="334.73" font-size="5.99" text-anchor="middle" fill="#333" textLength="14.01" lengthAdjust="spacingAndGlyphs" stroke="#333" stroke-width="0.12" transform="rotate(0.03 642.85 334.73)">Votos</text>
<text x="642.85" y="342.73" font-size="5.99" text-anchor="middle" fill="#333" textLength="14.32" lengthAdjust="spacingAndGlyphs" stroke="#333" stroke-width="0.12" transform="rotate(0.03 642.85 342.73)">Nulos</text>
<text x="674.20" y="334.33" font-size="5.99" text-anchor="middle" fill="#333" textLength="21.48" lengthAdjust="spacingAndGlyphs" stroke="#333" stroke-width="0.12" transform="rotate(0.03 674.20 334.33)">Votación</text>
<text x="674.20" y="342.73" font-size="5.99" text-anchor="middle" fill="#333" textLength="11.83" lengthAdjust="spacingAndGlyphs" stroke="#333" stroke-width="0.12" transform="rotate(0.03 674.20 342.73)">Total</text>
<rect x="98.7" y="366.3" width="160.90000000000003" height="27.0" fill="#f1f1f1"/>
<rect x="259.6" y="382.8" width="431.1" height="10.5" fill="#f1f1f1"/>
<path d="M98.70 366.30H690.70 M259.60 382.80H690.70 M98.70 393.30H690.70 M259.60 404.40H657.70 M98.70 366.30V393.30 M259.60 366.30V404.40 M339.20 366.30V404.40 M405.40 366.30V404.40 M473.30 366.30V404.40 M507.30 366.30V404.40 M539.60 366.30V404.40 M565.30 366.30V404.40 M595.30 366.30V404.40 M628.00 366.30V404.40 M657.70 366.30V404.40 M690.70 366.30V393.30" stroke="#333" stroke-width="0.9" fill="none"/>
<text x="179.00" y="377.78" font-size="6.42" text-anchor="middle" fill="#333" textLength="112.30" lengthAdjust="spacingAndGlyphs" stroke="#333" stroke-width="0.12" transform="rotate(0.03 179.00 377.78)">Votación final obtenida por los candidatos</text>
<text x="178.50" y="386.08" font-size="6.42" text-anchor="middle" fill="#333" textLength="154.90" lengthAdjust="spacingAndGlyphs" stroke="#333" stroke-width="0.12" transform="rotate(0.03 178.50 386.08)">de las coaliciones, candidatura común y partidos políticos.</text>
<text x="299.40" y="372.53" font-size="5.99" text-anchor="middle" fill="#333" textLength="62.06" lengthAdjust="spacingAndGlyphs" stroke="#333" stroke-width="0.12" transform="rotate(0.03 299.40 372.53)">Coalición &quot;Por Oaxaca al</text>
<text x="299.40" y="380.83" font-size="5.99" text-anchor="middle" fill="#333" textLength="18.17" lengthAdjust="spacingAndGlyphs" stroke="#333" stroke-width="0.12" transform="rotate(0.03 299.40 380.83)">Frente&quot;</text>
<text x="299.40" y="391.26" font-size="7.49" text-anchor="middle" fill="#222" textLength="20.13" lengthAdjust="spacingAndGlyphs" stroke="#222" stroke-width="0.12" transform="rotate(0.03 299.40 391.26)">35,263</text>
<text x="299.40" y="401.33" font-size="5.99" text-anchor="middle" fill="#333" textLength="18.99" lengthAdjust="spacingAndGlyphs" stroke="#333" stroke-width="0.12" transform="rotate(0.03 299.40 401.33)">23.68%</text>
<text x="372.30" y="372.53" font-size="5.99" text-anchor="middle" fill="#333" textLength="43.08" lengthAdjust="spacingAndGlyphs" stroke="#333" stroke-width="0.12" transform="rotate(0.03 372.30 372.53)">Coalición &quot;Juntos</text>
<text x="372.30" y="380.83" font-size="5.99" text-anchor="middle" fill="#333" textLength="45.24" lengthAdjust="spacingAndGlyphs" stroke="#333" stroke-width="0.12" transform="rotate(0.03 372.30 380.83)">Haremos Historia&quot;</text>
<text x="372.30" y="391.26" font-size="7.49" text-anchor="middle" fill="#222" textLength="20.13" lengthAdjust="spacingAndGlyphs" stroke="#222" stroke-width="0.12" transform="rotate(0.03 372.30 391.26)">75,288</text>
<text x="372.30" y="401.33" font-size="5.99" text-anchor="middle" fill="#333" textLength="18.99" lengthAdjust="spacingAndGlyphs" stroke="#333" stroke-width="0.12" transform="rotate(0.03 372.30 401.33)">50.55%</text>
<text x="439.35" y="372.53" font-size="5.99" text-anchor="middle" fill="#333" textLength="50.12" lengthAdjust="spacingAndGlyphs" stroke="#333" stroke-width="0.12" transform="rotate(0.03 439.35 372.53)">Candidatura Común</text>
<text x="439.35" y="380.83" font-size="5.99" text-anchor="middle" fill="#333" textLength="26.76" lengthAdjust="spacingAndGlyphs" stroke="#333" stroke-width="0.12" transform="rotate(0.03 439.35 380.83)">PRI PVEM</text>
<text x="439.35" y="391.26" font-size="7.49" text-anchor="middle" fill="#222" textLength="20.13" lengthAdjust="spacingAndGlyphs" stroke="#222" stroke-width="0.12" transform="rotate(0.03 439.35 391.26)">25,620</text>
<text x="439.35" y="401.33" font-size="5.99" text-anchor="middle" fill="#333" textLength="18.99" lengthAdjust="spacingAndGlyphs" stroke="#333" stroke-width="0.12" transform="rotate(0.03 439.35 401.33)">17.20%</text>
<text x="490.30" y="376.93" font-size="5.99" text-anchor="middle" fill="#333" textLength="11.52" lengthAdjust="spacingAndGlyphs" stroke="#333" stroke-width="0.12" transform="rotate(0.03 490.30 376.93)">PUP</text>
<text x="506.00" y="391.26" font-size="7.49" text-anchor="end" fill="#222" textLength="16.47" lengthAdjust="spacingAndGlyphs" stroke="#222" stroke-width="0.12" transform="rotate(0.03 506.00 391.26)">2,535</text>
<text x="488.80" y="401.33" font-size="5.99" text-anchor="middle" fill="#333" textLength="15.88" lengthAdjust="spacingAndGlyphs" stroke="#333" stroke-width="0.12" transform="rotate(0.03 488.80 401.33)">1.70%</text>
<text x="523.45" y="376.93" font-size="5.99" text-anchor="middle" fill="#333" textLength="7.78" lengthAdjust="spacingAndGlyphs" stroke="#333" stroke-width="0.12" transform="rotate(0.03 523.45 376.93)">NA</text>
<text x="538.30" y="391.26" font-size="7.49" text-anchor="end" fill="#222" textLength="16.47" lengthAdjust="spacingAndGlyphs" stroke="#222" stroke-width="0.12" transform="rotate(0.03 538.30 391.26)">1,980</text>
<text x="521.95" y="401.33" font-size="5.99" text-anchor="middle" fill="#333" textLength="15.88" lengthAdjust="spacingAndGlyphs" stroke="#333" stroke-width="0.12" transform="rotate(0.03 521.95 401.33)">1.33%</text>
<text x="552.45" y="376.93" font-size="5.99" text-anchor="middle" fill="#333" textLength="11.52" lengthAdjust="spacingAndGlyphs" stroke="#333" stroke-width="0.12" transform="rotate(0.03 552.45 376.93)">PSD</text>
<text x="564.00" y="391.26" font-size="7.49" text-anchor="end" fill="#222" textLength="16.47" lengthAdjust="spacingAndGlyphs" stroke="#222" stroke-width="0.12" transform="rotate(0.03 564.00 391.26)">1,180</text>
<text x="550.95" y="401.33" font-size="5.99" text-anchor="middle" fill="#333" textLength="15.88" lengthAdjust="spacingAndGlyphs" stroke="#333" stroke-width="0.12" transform="rotate(0.03 550.95 401.33)">0.79%</text>
<text x="580.30" y="376.93" font-size="5.99" text-anchor="middle" fill="#333" textLength="12.44" lengthAdjust="spacingAndGlyphs" stroke="#333" stroke-width="0.12" transform="rotate(0.03 580.30 376.93)">PMR</text>
<text x="594.00" y="391.26" font-size="7.49" text-anchor="end" fill="#222" textLength="16.47" lengthAdjust="spacingAndGlyphs" stroke="#222" stroke-width="0.12" transform="rotate(0.03 594.00 391.26)">3,273</text>
<text x="578.80" y="401.33" font-size="5.99" text-anchor="middle" fill="#333" textLength="15.88" lengthAdjust="spacingAndGlyphs" stroke="#333" stroke-width="0.12" transform="rotate(0.03 578.80 401.33)">2.20%</text>
<text x="611.65" y="376.93" font-size="5.99" text-anchor="middle" fill="#333" textLength="12.13" lengthAdjust="spacingAndGlyphs" stroke="#333" stroke-width="0.12" transform="rotate(0.03 611.65 376.93)">CNR</text>
<text x="626.70" y="391.26" font-size="7.49" text-anchor="end" fill="#222" textLength="7.32" lengthAdjust="spacingAndGlyphs" stroke="#222" stroke-width="0.12" transform="rotate(0.03 626.70 391.26)">62</text>
<text x="610.15" y="401.33" font-size="5.99" text-anchor="middle" fill="#333" textLength="15.88" lengthAdjust="spacingAndGlyphs" stroke="#333" stroke-width="0.12" transform="rotate(0.03 610.15 401.33)">0.04%</text>
<text x="642.85" y="372.53" font-size="5.99" text-anchor="middle" fill="#333" textLength="14.01" lengthAdjust="spacingAndGlyphs" stroke="#333" stroke-width="0.12" transform="rotate(0.03 642.85 372.53)">Votos</text>
<text x="642.85" y="380.83" font-size="5.99" text-anchor="middle" fill="#333" textLength="14.32" lengthAdjust="spacingAndGlyphs" stroke="#333" stroke-width="0.12" transform="rotate(0.03 642.85 380.83)">Nulos</text>
<text x="656.40" y="391.26" font-size="7.49" text-anchor="end" fill="#222" textLength="16.47" lengthAdjust="spacingAndGlyphs" stroke="#222" stroke-width="0.12" transform="rotate(0.03 656.40 391.26)">3,722</text>
<text x="641.35" y="401.33" font-size="5.99" text-anchor="middle" fill="#333" textLength="15.88" lengthAdjust="spacingAndGlyphs" stroke="#333" stroke-width="0.12" transform="rotate(0.03 641.35 401.33)">2.50%</text>
<text x="674.20" y="372.53" font-size="5.99" text-anchor="middle" fill="#333" textLength="21.48" lengthAdjust="spacingAndGlyphs" stroke="#333" stroke-width="0.12" transform="rotate(0.03 674.20 372.53)">Votación</text>
<text x="674.20" y="380.83" font-size="5.99" text-anchor="middle" fill="#333" textLength="11.83" lengthAdjust="spacingAndGlyphs" stroke="#333" stroke-width="0.12" transform="rotate(0.03 674.20 380.83)">Total</text>
<text x="689.40" y="391.26" font-size="7.49" text-anchor="end" fill="#222" textLength="23.79" lengthAdjust="spacingAndGlyphs" stroke="#222" stroke-width="0.12" transform="rotate(0.03 689.40 391.26)">148,923</text>
</g>
<text x="399.50" y="418.75" font-size="4.92" text-anchor="middle" fill="#444" textLength="7.68" lengthAdjust="spacingAndGlyphs" stroke="#444" stroke-width="0.12" transform="rotate(0.03 399.50 418.75)">246</text>
</svg>
</body>
</html>
